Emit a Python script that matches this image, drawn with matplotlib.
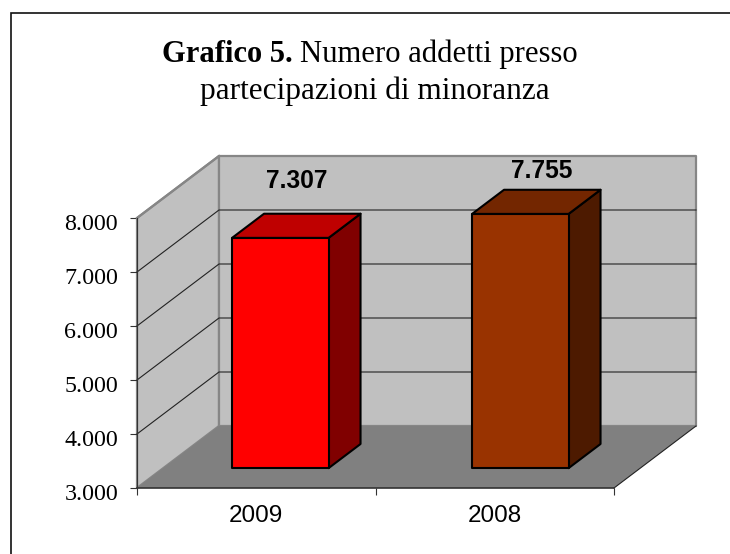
import matplotlib
matplotlib.use("Agg")
import matplotlib.pyplot as plt
from matplotlib.patches import Polygon, Rectangle
from matplotlib.transforms import ScaledTranslation

categories = ["2009", "2008"]
values = [7307, 7755]
value_labels = ["7.307", "7.755"]
y_ticks = [3000, 4000, 5000, 6000, 7000, 8000]
y_tick_labels = ["3.000", "4.000", "5.000", "6.000", "7.000", "8.000"]

W, H = 730, 554
fig = plt.figure(figsize=(W / 100, H / 100), dpi=100, facecolor="white")
L, R, T, B = 137, 614, 218, 488
ax = fig.add_axes([L / W, 1 - B / H, (R - L) / W, (B - T) / H])
ax.set_xlim(0, 2)
ax.set_ylim(3000, 8000)
ax.patch.set_visible(False)
for s in ax.spines.values():
    s.set_visible(False)

px_x = 2 / (R - L)
px_y = 5000 / (B - T)
DX, DY = 82 * px_x, 62 * px_y   # oblique depth vector


def P(x, v, d=0.0):
    return (x + d * DX, v + d * DY)


def poly(pts, fc, ec, lw, z):
    ax.add_patch(Polygon(pts, closed=True, facecolor=fc, edgecolor=ec, linewidth=lw,
                         joinstyle="round", clip_on=False, zorder=z))


ymin, ymax = 3000, 8000
# walls and floor
poly([P(0, ymin), P(0, ymax), P(0, ymax, 1), P(0, ymin, 1)], "#c0c0c0", "#868686", 1.6, 1)
poly([P(0, ymin, 1), P(0, ymax, 1), P(2, ymax, 1), P(2, ymin, 1)], "#c0c0c0", "#868686", 1.6, 1)
poly([P(0, ymin), P(2, ymin), P(2, ymin, 1), P(0, ymin, 1)], "#808080", "none", 0, 2)
# floor outer edge on the right
ax.plot(*zip(P(2, ymin), P(2, ymin, 1)), color="#222222", lw=0.8, clip_on=False, zorder=3)
# gridlines
for v in y_ticks[1:-1]:
    ax.plot(*zip(P(0, v), P(0, v, 1), P(2, v, 1)), color="#222222", lw=0.8,
            clip_on=False, zorder=3, solid_joinstyle="miter")
ax.plot(*zip(P(0, ymax), P(0, ymax, 1)), color="#868686", lw=1.6, clip_on=False, zorder=3)

# axis lines
ax.plot(*zip(P(0, ymin), P(0, ymax)), color="#333333", lw=0.8, clip_on=False, zorder=4)
ax.plot(*zip(P(0, ymin), P(2, ymin)), color="#333333", lw=1.2, clip_on=False, zorder=4)

# bars
BAR_W = 96.5 * px_x
D0, D1 = 0.32, 0.71
SCALE = 0.99
bar_shift = [-1 * px_x, 0.5 * px_x]
face = ["#ff0000", "#993300"]
top = ["#bf0000", "#732600"]
side = ["#800000", "#4d1a00"]
label_offsets = [(16, 57), (21, 43)]  # px from the top centre of the front face
for i, (val, lab) in enumerate(zip(values, value_labels)):
    x0 = i + 0.5 - BAR_W / 2 - 0.005 + bar_shift[i]
    x1 = x0 + BAR_W
    v = ymin + (val - ymin) * SCALE
    poly([P(x1, ymin, D0), P(x1, v, D0), P(x1, v, D1), P(x1, ymin, D1)], side[i], "black", 1.5, 5)
    poly([P(x0, v, D0), P(x1, v, D0), P(x1, v, D1), P(x0, v, D1)], top[i], "black", 1.5, 5)
    poly([P(x0, ymin, D0), P(x1, ymin, D0), P(x1, v, D0), P(x0, v, D0)], face[i], "black", 1.5, 6)
    ox, oy = label_offsets[i]
    ax.annotate(lab, P((x0 + x1) / 2, v, D0), xytext=(ox * 0.72, oy * 0.72),
                textcoords="offset points", ha="center", va="center", fontsize=17.7,
                fontweight="bold", family="Liberation Sans", color="black", zorder=7,
                annotation_clip=False)

# ticks
ax.set_yticks(y_ticks)
ax.set_yticklabels(y_tick_labels, family="Liberation Serif", fontsize=17.3, color="black")
ax.set_xticks([0, 1, 2])
ax.set_xticklabels([])
ax.tick_params(axis="y", length=5, width=0.8, color="#333333", pad=8.6)
ax.tick_params(axis="x", length=5, width=0.8, color="#333333")
shift = ScaledTranslation(0, -3.5 / 100, fig.dpi_scale_trans)
for lbl in ax.get_yticklabels():
    lbl.set_transform(lbl.get_transform() + shift)
for x, c in zip([0.5, 1.5], categories):
    ax.annotate(c, (x, ymin), xytext=(0, -28.5 * 0.72), textcoords="offset points", ha="center",
                va="center", fontsize=17.5, family="Liberation Sans", color="black",
                annotation_clip=False)

# outer frame
fig.add_artist(Rectangle((10.5 / W, -0.02), 1.0, 1 - 12.5 / H + 0.02, transform=fig.transFigure,
                         fill=False, edgecolor="#111111", linewidth=1.2))

# title
y1 = 1 - 62 / H
y2 = 1 - 99.5 / H
fig.text(162 / W, y1, "Grafico 5.", family="Liberation Serif", fontweight="bold", fontsize=22,
         va="baseline", ha="left")
fig.text(300 / W, y1, "Numero addetti presso", family="Liberation Serif", fontsize=22.1,
         va="baseline", ha="left")
fig.text(375 / W, y2, "partecipazioni di minoranza", family="Liberation Serif", fontsize=22.5,
         va="baseline", ha="center")

fig.savefig("out.png", dpi=100)
